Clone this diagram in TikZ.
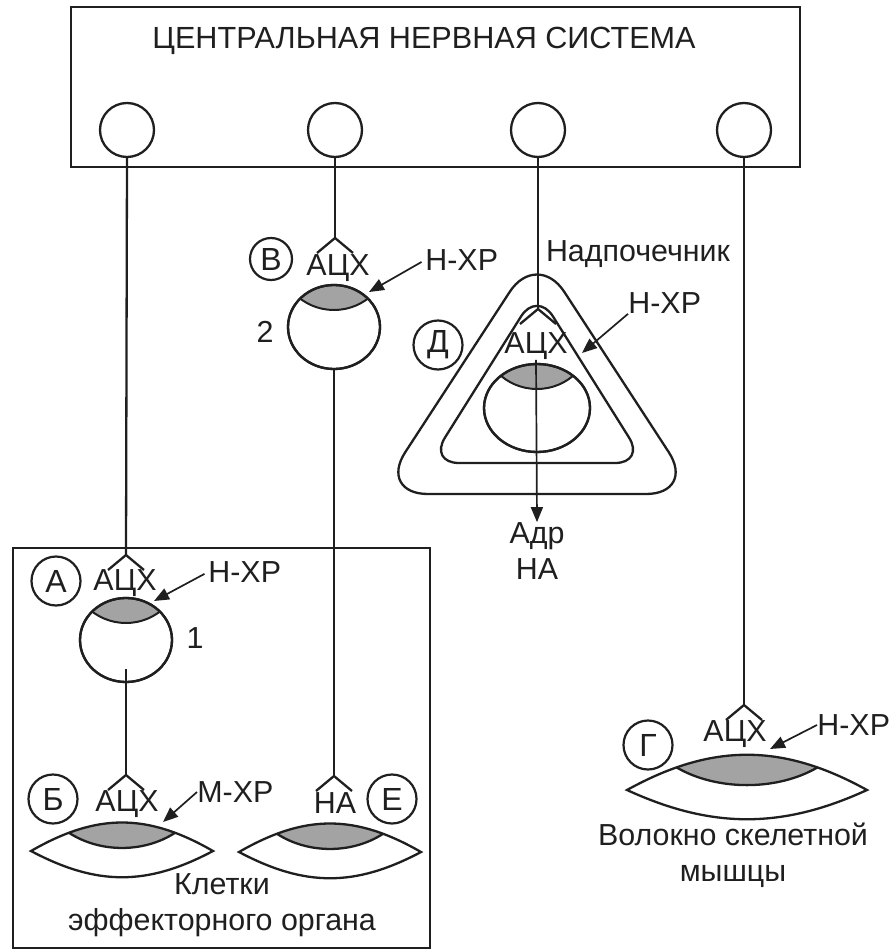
\documentclass[tikz,border=0pt]{standalone}
\usepackage{fontspec}
\setmainfont{Liberation Sans}
\usepackage{tikz}
\usetikzlibrary{shapes.geometric, arrows.meta, calc, positioning}

\definecolor{ink}{gray}{0.12}
\definecolor{capgray}{gray}{0.64}

\tikzset{
  wire/.style={draw=ink, line width=1.15pt},
  cnscell/.style={circle, draw=ink, line width=1.15pt, minimum size=27pt, inner sep=0pt},
  neuron/.style={ellipse, draw=ink, line width=1.15pt, minimum width=46pt, minimum height=42pt, inner sep=0pt,
    path picture={\filldraw[fill=capgray, draw=ink, line width=1pt] ($(path picture bounding box.north)+(0,-31)$) circle[radius=56];},
    postaction={path picture={}, draw=ink, line width=1.15pt}},
  letter/.style={circle, draw=ink, line width=1.1pt, minimum size=24.5pt, inner sep=0pt, text=ink, font=\fontsize{16}{18}\selectfont},
  lbl/.style={inner sep=0pt, text=ink, font=\fontsize{15.2}{18}\selectfont},
  head/.style={inner sep=0pt, text=ink, font=\fontsize{15.3}{18}\selectfont},
  rec/.style={-{Triangle[length=7.5pt,width=6pt]}, draw=ink, line width=0.85pt},
  ending/.pic={\draw[wire] (-18,15) -- (0,0) -- (18,15);},
  cell/.pic={
    \begin{scope}
      \clip (-91,0) .. controls (-25,-38) and (25,-38) .. (91,0) .. controls (25,35) and (-25,35) .. (-91,0);
      \fill[capgray] (-53,-18.2) .. controls (-22,2) and (22,2) .. (53,-18.2) -- (53,-50) -- (-53,-50) -- cycle;
    \end{scope}
    \draw[wire] (-53,-18.2) .. controls (-22,2) and (22,2) .. (53,-18.2);
    \draw[wire] (-91,0) .. controls (-25,-38) and (25,-38) .. (91,0) .. controls (25,35) and (-25,35) .. (-91,0) -- cycle;
  }
}

\begin{document}
\begin{tikzpicture}[x=0.5pt, y=-0.5pt]
  \useasboundingbox (0,0) rectangle (890,952);
  % ЦНС
  \node[draw=ink, line width=1.3pt, minimum width=364.5pt, minimum height=80pt, inner sep=0pt] (cnsbox) at (435.5,87) {};
  \node[head] (cns) at (424,41) {ЦЕНТРАЛЬНАЯ НЕРВНАЯ СИСТЕМА};
  \node[cnscell] (c1) at (127,130) {};
  \node[cnscell] (c2) at (335,130) {};
  \node[cnscell] (c3) at (538,130) {};
  \node[cnscell] (c4) at (744,130) {};

  % эффекторный орган
  \node[draw=ink, line width=0.7pt, minimum width=208.5pt, minimum height=200pt, inner sep=0pt] (orgbox) at (221.5,748) {};

  % надпочечник
  \draw[wire, rounded corners=25pt] (537,250) -- (696,494) -- (378,494) -- cycle;
  \draw[wire, rounded corners=15pt] (537,291) -- (645,463) -- (429,463) -- cycle;
  \node[neuron, minimum width=53pt, minimum height=44pt] (gl) at (537,408) {};
  \node[lbl] (adgl) at (638,254) {Надпочечник};

  % нейроны
  \node[neuron] (n2) at (334,327) {};
  \node[neuron] (n1) at (126,640) {};

  % окончания
  \coordinate (fV) at (335,238);
  \coordinate (fA) at (126,555);
  \coordinate (fD) at (538,309);
  \coordinate (fB) at (126,775);
  \coordinate (fE) at (334,776);
  \coordinate (fG) at (744,705);
  \foreach \f in {fV,fA,fD,fB,fE,fG} \pic at (\f) {ending};

  \draw[wire] (c1.south) -- (fA);
  \draw[wire] (c2.south) -- (fV);
  \draw[wire] (c3.south) -- (fD);
  \draw[wire] (c4.south) -- (fG);
  \draw[wire] ([yshift=7pt]n1.south) -- (fB);
  \draw[wire] (n2.south) -- (fE);

  % клетки
  \pic at (122,851) {cell};
  \pic at (330,852) {cell};
  % мышца
  \begin{scope}[shift={(747,790)}]
    \begin{scope}
      \clip (-120,0) .. controls (-35,-47) and (35,-47) .. (120,0) .. controls (35,39) and (-35,39) .. (-120,0);
      \fill[capgray] (-70.5,-22.6) .. controls (-30,1) and (30,1) .. (70.5,-22.6) -- (70.5,-60) -- (-70.5,-60) -- cycle;
    \end{scope}
    \draw[wire] (-70.5,-22.6) .. controls (-30,1) and (30,1) .. (70.5,-22.6);
    \draw[wire] (-120,0) .. controls (-35,-47) and (35,-47) .. (120,0) .. controls (35,39) and (-35,39) .. (-120,0) -- cycle;
  \end{scope}

  % буквы
  \node[letter, minimum size=21pt] (V) at (271,259) {В};
  \node[letter] (A) at (56,581) {А};
  \node[letter] (B) at (53,799) {Б};
  \node[letter] (E) at (392,799) {Е};
  \node[letter] (D) at (438,345) {Д};
  \node[letter] (G) at (648,745) {Г};

  % медиаторы
  \node[lbl] (aV) at (338,268) {АЦХ};
  \node[lbl] (aA) at (125,583) {АЦХ};
  \node[lbl] (aB) at (127,804) {АЦХ};
  \node[lbl] (naE) at (335,803) {НА};
  \node[lbl] (gachx) at (536,346) {АЦХ};
  \node[lbl] (aG) at (735,734) {АЦХ};
  \node[lbl] (num1) at (195,638) {1};
  \node[lbl] (num2) at (265,332) {2};
  \node[lbl, align=center] (adr) at (537,551) {Адр\\НА};
  \draw[rec] (gachx.south) -- (adr.north);

  % рецепторы
  \node[lbl, anchor=west] (hV) at (425,260) {Н-ХР};
  \node[lbl, anchor=west] (hA) at (208,572) {Н-ХР};
  \node[lbl, anchor=west] (mB) at (197,792) {М-ХР};
  \node[lbl, anchor=west] (hD) at (628,303) {Н-ХР};
  \node[lbl, anchor=west] (hG) at (817,725) {Н-ХР};
  \coordinate (tV) at (369,292);
  \coordinate (tA) at (154,601);
  \coordinate (tB) at (163,822);
  \coordinate (tD) at (582,353);
  \coordinate (tG) at (770,749);
  \draw[rec, shorten <=2pt] (hV.west) -- (tV);
  \draw[rec, shorten <=2pt] (hA.west) -- (tA);
  \draw[rec] (mB.west) -- (tB);
  \draw[rec] (hD.south west) -- (tD);
  \draw[rec] (hG.west) -- (tG);

  \node[lbl, align=center] (eff) at (222,905) {Клетки\\эффекторного органа};
  \node[lbl, align=center] (musc) at (733,855) {Волокно скелетной\\мышцы};
\end{tikzpicture}
\end{document}
